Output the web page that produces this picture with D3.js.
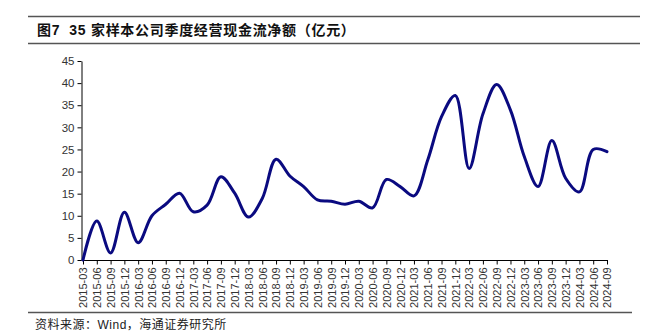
<!DOCTYPE html>
<html>
<head>
<meta charset="utf-8">
<script src="https://cdn.jsdelivr.net/npm/d3@7/dist/d3.min.js"></script>
<style>
  html, body { margin: 0; padding: 0; background: #fff; }
  svg { display: block; }
</style>
</head>
<body>
<svg id="chart" width="645" height="336"></svg>
<script>
// Quarterly periods
const quarters = [
  "2015-03","2015-06","2015-09","2015-12",
  "2016-03","2016-06","2016-09","2016-12",
  "2017-03","2017-06","2017-09","2017-12",
  "2018-03","2018-06","2018-09","2018-12",
  "2019-03","2019-06","2019-09","2019-12",
  "2020-03","2020-06","2020-09","2020-12",
  "2021-03","2021-06","2021-09","2021-12",
  "2022-03","2022-06","2022-09","2022-12",
  "2023-03","2023-06","2023-09","2023-12",
  "2024-03","2024-06","2024-09"
];

// Net operating cash flow of 35 sample companies, 亿元
const cashFlow = [
  0.0, 8.8, 1.6, 10.8,
  3.9, 10.0, 12.6, 15.1,
  10.9, 12.4, 18.8, 15.1,
  9.7, 13.9, 22.8, 19.0,
  16.6, 13.6, 13.3, 12.6,
  13.3, 11.8, 18.2, 16.6,
  14.5, 22.6, 32.4, 37.2,
  20.7, 33.0, 39.7, 33.9,
  23.4, 16.6, 27.0, 18.5,
  15.4, 25.0, 24.5
];

const yTicks = [0, 5, 10, 15, 20, 25, 30, 35, 40, 45];

const titleText = "图7\u00a0\u00a035 家样本公司季度经营现金流净额（亿元）";
const sourceText = "资料来源：Wind，海通证券研究所";

const svg = d3.select("#chart");
const cjk = "'Liberation Sans', Arial, 'Noto Sans CJK SC', sans-serif";

// Header rules and title
svg.append("line").attr("x1", 28).attr("x2", 640).attr("y1", 16.5).attr("y2", 16.5)
  .attr("stroke", "#555").attr("stroke-width", 1.5);
svg.append("line").attr("x1", 28).attr("x2", 640).attr("y1", 43.5).attr("y2", 43.5)
  .attr("stroke", "#555").attr("stroke-width", 1.5);
svg.append("text")
  .attr("x", 37).attr("y", 35)
  .attr("font-family", cjk)
  .attr("font-size", 14).attr("font-weight", "bold").attr("fill", "#111")
  .attr("letter-spacing", 0.7)
  .text(titleText);

// Footer rule and source
svg.append("line").attr("x1", 28).attr("x2", 632).attr("y1", 312.5).attr("y2", 312.5)
  .attr("stroke", "#555").attr("stroke-width", 1.5);
svg.append("text")
  .attr("x", 35).attr("y", 329)
  .attr("font-family", cjk)
  .attr("font-size", 12).attr("fill", "#222")
  .attr("letter-spacing", 0.5)
  .text(sourceText);

// Plot scales
const x = d3.scalePoint().domain(quarters).range([83, 607]);
const y = d3.scaleLinear().domain([0, 45]).range([260, 61]);

// Y axis
const yAxis = svg.append("g")
  .attr("transform", "translate(81.5,0)")
  .call(d3.axisLeft(y).tickValues(yTicks).tickSize(4).tickSizeOuter(0).tickPadding(3));
yAxis.select(".domain").attr("stroke", "#000");
yAxis.selectAll(".tick line").attr("stroke", "#000");
yAxis.selectAll(".tick text")
  .attr("font-family", "'Liberation Sans', Arial, sans-serif")
  .attr("font-size", 11.5).attr("fill", "#333");

// X axis
const xAxis = svg.append("g")
  .attr("transform", "translate(0,260.5)")
  .call(d3.axisBottom(x).tickSize(4).tickSizeOuter(0));
xAxis.select(".domain").attr("stroke", "#000").attr("d", "M81.5,0H608");
xAxis.selectAll(".tick line").attr("stroke", "#000");
xAxis.selectAll(".tick text")
  .attr("font-family", "'Liberation Sans', Arial, sans-serif")
  .attr("font-size", 11).attr("fill", "#333")
  .attr("transform", "rotate(-90)")
  .attr("text-anchor", "end")
  .attr("x", -7).attr("y", 0).attr("dy", "0.35em");

// Smoothed series line
const line = d3.line()
  .x((d, i) => x(quarters[i]))
  .y(d => y(d))
  .curve(d3.curveCatmullRom.alpha(0.5));

svg.append("path")
  .datum(cashFlow)
  .attr("d", line)
  .attr("fill", "none")
  .attr("stroke", "#0a0a80")
  .attr("stroke-width", 3)
  .attr("stroke-linejoin", "round")
  .attr("stroke-linecap", "round");
</script>
</body>
</html>
